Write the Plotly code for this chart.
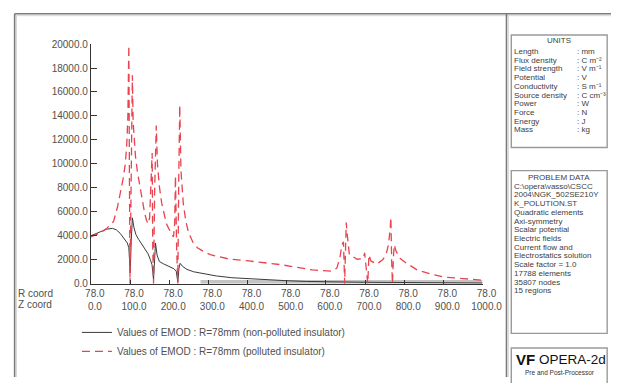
import plotly.graph_objects as go

W, H = 631, 383

# ---------------- data ----------------
z_black = [0, 10, 20, 30, 40, 55, 65, 75, 85, 93, 97, 99, 100.5, 103, 106, 110, 115, 122,
           130, 138, 146, 152, 156, 158.5, 160, 162, 165, 169, 175, 186, 199, 212, 218,
           220.5, 222, 225, 228, 234, 245, 262, 290, 320, 360, 400, 450, 500, 550, 600,
           700, 800, 900, 1000]
e_black = [4000, 4150, 4300, 4450, 4550, 4620, 4500, 4200, 3800, 3400, 3000, 2200, 900, 3500,
           5500, 4700, 4100, 3700, 3300, 2900, 2500, 2000, 1600, 900, 300, 1500, 3400, 2400,
           1850, 1650, 1450, 1250, 1050, 400, 150, 1300, 1700, 1450, 1200, 1000, 800, 650,
           500, 420, 320, 250, 190, 150, 120, 100, 80, 60]

z_red = [0, 15, 27, 40, 50, 58, 68, 76, 82, 88, 92, 94.5, 97, 98.5, 100, 102, 104, 106,
         108, 111, 114, 119, 125, 131, 137, 142, 146, 150, 153, 156.5, 158, 160, 163, 167,
         170, 175, 181, 187, 193, 199, 205, 211, 214, 216, 219, 222, 224.5, 227, 230, 236,
         242, 249, 260, 272, 290, 305, 321, 354, 403, 485, 566, 615, 628, 636, 641, 645,
         648, 650, 652, 655, 660, 680, 695, 699, 703, 707, 710, 715, 730, 745, 754, 760,
         764, 766, 768, 770, 773, 775, 779, 790, 803, 820, 836, 870, 901, 950, 999]
e_red = [3900, 4100, 4300, 4600, 4900, 5200, 6400, 7600, 8700, 10000, 11800, 14000, 19900,
         9000, 0, 6000, 12000, 17400, 13500, 11500, 10600, 9300, 8100, 7000, 5950, 5300, 5000,
         5500, 7500, 10900, 3000, 0, 8000, 13200, 10000, 8100, 6700, 5700, 5000, 4600, 4200,
         3900, 5000, 9000, 3000, 0, 9000, 14900, 9500, 6700, 5300, 4300, 3500, 3000, 2650,
         2430, 2300, 2050, 1900, 1590, 1150, 1050, 1300, 2200, 3250, 3500, 0, 3000, 5100,
         4000, 2440, 2040, 2100, 2580, 1200, 0, 2400, 1900, 1640, 2000, 2440, 3300, 4500,
         5540, 2000, 0, 2500, 3250, 2720, 2100, 1770, 1400, 1100, 800, 560, 430, 300]

z_ticks = [0, 100, 200, 300, 400, 500, 600, 700, 800, 900, 1000]
r_coord = "78.0"
e_ticks = [0, 2000, 4000, 6000, 8000, 10000, 12000, 14000, 16000, 18000, 20000]

series_names = ["Values of EMOD : R=78mm (non-polluted insulator)",
                "Values of EMOD : R=78mm (polluted insulator)"]

units_labels = ["Length", "Flux density", "Field strength", "Potential", "Conductivity",
                "Source density", "Power", "Force", "Energy", "Mass"]
units_values = [": mm", ": C m⁻²", ": V m⁻¹", ": V", ": S m⁻¹", ": C cm⁻³", ": W", ": N",
                ": J", ": kg"]
problem_lines = ["C:\\opera\\vasso\\CSCC", "2004\\NGK_502SE210Y", "K_POLUTION.ST",
                 "Quadratic elements", "Axi-symmetry", "Scalar potential", "Electric fields",
                 "Current flow and", "Electrostatics solution", "Scale factor = 1.0",
                 "17788 elements", "35807 nodes", "15 regions"]

# ---------------- helpers ----------------
def fx(x):
    return x / W

def fy(y):
    return 1 - y / H

FONT = "Liberation Sans, Arial, sans-serif"
TXT = "#505050"

fig = go.Figure()
fig.add_trace(go.Scatter(x=z_black, y=e_black, mode="lines", name=series_names[0],
                         line=dict(color="#3a3a3a", width=1)))
fig.add_trace(go.Scatter(x=z_red, y=e_red, mode="lines", name=series_names[1],
                         line=dict(color="#e8434f", width=1.3, dash="8px,5px")))

shapes = []
shapes.append(dict(type="rect", xref="x", yref="y", x0=280, x1=1000, y0=0, y1=300,
                   fillcolor="#c4c4c4", line=dict(width=0), layer="below"))
frame = "#7a7a7a"
shapes.append(dict(type="line", xref="paper", yref="paper", x0=fx(9), x1=1, y0=fy(8), y1=fy(8),
                   line=dict(color=frame, width=1.6)))
shapes.append(dict(type="line", xref="paper", yref="paper", x0=fx(10), x1=1, y0=fy(10), y1=fy(10),
                   line=dict(color="#d8d8d8", width=1)))
shapes.append(dict(type="line", xref="paper", yref="paper", x0=fx(9), x1=fx(9), y0=fy(8), y1=0,
                   line=dict(color=frame, width=1.6)))
shapes.append(dict(type="line", xref="paper", yref="paper", x0=fx(11), x1=fx(11), y0=fy(10), y1=0,
                   line=dict(color="#d8d8d8", width=1)))
shapes.append(dict(type="line", xref="paper", yref="paper", x0=fx(522), x1=fx(522), y0=fy(8), y1=0,
                   line=dict(color=frame, width=1.6)))
shapes.append(dict(type="line", xref="paper", yref="paper", x0=fx(524), x1=fx(524), y0=fy(10), y1=0,
                   line=dict(color="#d8d8d8", width=1)))
for (y0, y1) in [(30, 146), (170, 338), (353, 400)]:
    shapes.append(dict(type="rect", xref="paper", yref="paper", x0=fx(527), x1=fx(627),
                       y0=fy(y1), y1=fy(y0), line=dict(color="#9a9a9a", width=1.4)))

ann = []
PF = dict(family=FONT, size=8, color="#404040")
ann.append(dict(x=fx(577), y=fy(36), text="UNITS", showarrow=False, xref="paper", yref="paper",
                xanchor="center", yanchor="middle", font=PF))
for i, (lab, val) in enumerate(zip(units_labels, units_values)):
    yy = 47 + i * 9.0
    ann.append(dict(x=fx(528), y=fy(yy), text=lab, showarrow=False, xref="paper", yref="paper",
                    xanchor="left", yanchor="middle", font=PF))
    ann.append(dict(x=fx(593), y=fy(yy), text=val, showarrow=False, xref="paper", yref="paper",
                    xanchor="left", yanchor="middle", font=PF))
ann.append(dict(x=fx(577), y=fy(177), text="PROBLEM DATA", showarrow=False, xref="paper",
                yref="paper", xanchor="center", yanchor="middle", font=PF))
for i, line in enumerate(problem_lines):
    ann.append(dict(x=fx(528), y=fy(186 + i * 9.0), text=line, showarrow=False, xref="paper",
                    yref="paper", xanchor="left", yanchor="middle", font=PF))
ann.append(dict(x=fx(530), y=fy(365), text="<b>VF</b>", showarrow=False, xref="paper",
                yref="paper", xanchor="left", yanchor="middle",
                font=dict(family=FONT, size=15, color="#111111")))
ann.append(dict(x=fx(554), y=fy(365), text="OPERA-2d", showarrow=False, xref="paper",
                yref="paper", xanchor="left", yanchor="middle",
                font=dict(family=FONT, size=13.5, color="#111111")))
ann.append(dict(x=fx(578), y=fy(378), text="Pre and Post-Processor", showarrow=False,
                xref="paper", yref="paper", xanchor="center", yanchor="middle",
                font=dict(family=FONT, size=6.5, color="#333333")))
for txt, yy in [("R coord", 297), ("Z coord", 308)]:
    ann.append(dict(x=fx(10), y=fy(yy), text=txt, showarrow=False, xref="paper", yref="paper",
                    xanchor="left", yanchor="middle",
                    font=dict(family=FONT, size=10, color=TXT)))

fig.update_layout(
    width=W, height=H, margin=dict(l=0, r=0, t=0, b=0),
    paper_bgcolor="white", plot_bgcolor="white",
    font=dict(family=FONT, size=10, color=TXT),
    shapes=shapes, annotations=ann,
    showlegend=True,
    legend=dict(x=fx(74), y=fy(322), xanchor="left", yanchor="top",
                bgcolor="rgba(0,0,0,0)", font=dict(family=FONT, size=10, color=TXT),
                itemwidth=30, tracegroupgap=0),
    xaxis=dict(domain=[fx(88.5), fx(497)], range=[0, 1000], showgrid=False, zeroline=False,
               showline=True, linecolor="#333333", linewidth=1,
               ticks="inside", ticklen=4, tickcolor="#333333",
               tickvals=z_ticks, ticktext=[f"{r_coord}<br>{v:.1f}" for v in z_ticks],
               tickfont=dict(family=FONT, size=10, color=TXT), ticklabelshift=4),
    yaxis=dict(domain=[fy(286.7), fy(39.3)], range=[0, 20000], showgrid=False, zeroline=False,
               showline=True, linecolor="#333333", linewidth=1,
               ticks="inside", ticklen=6, tickcolor="#333333",
               tickvals=e_ticks, ticktext=[f"{v:.1f}" for v in e_ticks],
               tickfont=dict(family=FONT, size=10, color=TXT)),
)

fig.write_html("out.html")
